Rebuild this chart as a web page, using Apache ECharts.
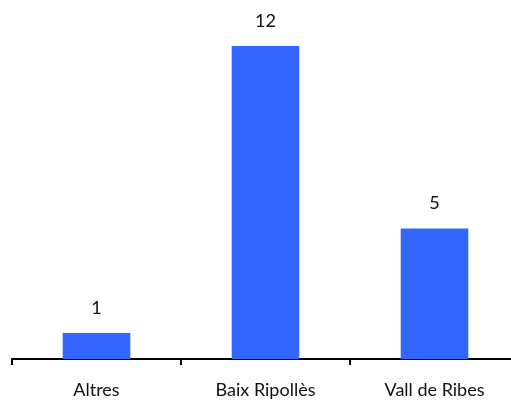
<!DOCTYPE html>
<html>
<head>
<meta charset="utf-8">
<script src="https://cdn.jsdelivr.net/npm/echarts@6/dist/echarts.min.js"></script>
<style>
  html, body { margin: 0; padding: 0; background: #fff; }
  #chart { width: 511px; height: 403px; }
</style>
</head>
<body>
<div id="chart"></div>
<script>
// comarques i valors
const categories = ["Altres", "Baix Ripollès", "Vall de Ribes"];
const values = [1, 12, 5];

const chart = echarts.init(document.getElementById("chart"), null, { renderer: "canvas" });

const option = {
  animation: false,
  grid: { left: 12, width: 507, top: 46, bottom: 44, containLabel: false, outerBoundsMode: "none" },
  xAxis: {
    type: "category",
    data: categories,
    axisLine: { lineStyle: { color: "#000", width: 2 } },
    axisTick: { show: true, length: 6, lineStyle: { color: "#000", width: 2 } },
    axisLabel: { color: "#111", fontSize: 18, margin: 22, fontFamily: "Lato" }
  },
  yAxis: {
    type: "value",
    min: 0,
    max: 12,
    show: false,
    splitLine: { show: false }
  },
  series: [
    {
      type: "bar",
      data: values,
      barWidth: "40%",
      itemStyle: { color: "#3366FF" },
      label: {
        show: true,
        position: "top",
        distance: 16,
        color: "#111",
        fontSize: 18,
        fontFamily: "Lato"
      }
    }
  ]
};

chart.setOption(option);
</script>
</body>
</html>
